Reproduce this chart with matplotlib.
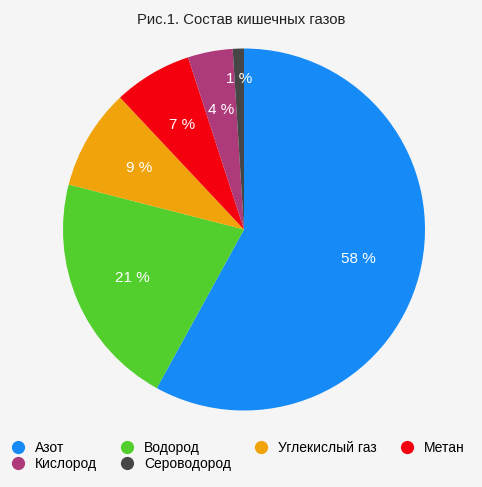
import numpy as np
import matplotlib.pyplot as plt
from matplotlib.lines import Line2D

plt.rcParams['font.family'] = ['Liberation Sans', 'DejaVu Sans']

# данные
gases = ['Азот', 'Водород', 'Углекислый газ', 'Метан', 'Кислород', 'Сероводород']
shares = [58, 21, 9, 7, 4, 1]
colors = ['#168bf8', '#52cf2c', '#f0a30b', '#f5000e', '#ad3a7b', '#464646']
pct_dist = [0.65, 0.67, 0.67, 0.67, 0.67, 0.83]

bg = '#f5f5f5'
fig = plt.figure(figsize=(4.82, 4.87), dpi=100, facecolor=bg)
ax = fig.add_axes([63 / 482, (487 - 410.5) / 487, 362 / 482, 362 / 487])
ax.set_facecolor(bg)

wedges, texts = ax.pie(shares, colors=colors, startangle=90, counterclock=False,
                       wedgeprops=dict(linewidth=0))

# подписи процентов
for w, v, d in zip(wedges, shares, pct_dist):
    a = np.deg2rad((w.theta1 + w.theta2) / 2)
    ax.text(d * np.cos(a), d * np.sin(a), f'{v} %', color='white',
            ha='center', va='center', fontsize=11)

ax.set_xlim(-1, 1)
ax.set_ylim(-1, 1)
ax.axis('off')

fig.text(0.5, 1 - 20 / 487, 'Рис.1. Состав кишечных газов', ha='center', va='center',
         fontsize=10.7, color='#222222')

# легенда: порядок по столбцам
order = [0, 4, 1, 5, 2, 3]
handles = [Line2D([], [], marker='o', linestyle='none', markersize=9.5,
                  markerfacecolor=colors[i], markeredgewidth=0) for i in order]
labels = [gases[i] for i in order]
fig.legend(handles, labels, ncol=4, loc='upper left',
           bbox_to_anchor=(5 / 482, 1 - 435 / 487), frameon=False,
           fontsize=10, handlelength=1.0, handletextpad=0.75,
           columnspacing=1.65, labelspacing=0.2, borderaxespad=0)

fig.savefig('out.png', dpi=100, facecolor=bg)
